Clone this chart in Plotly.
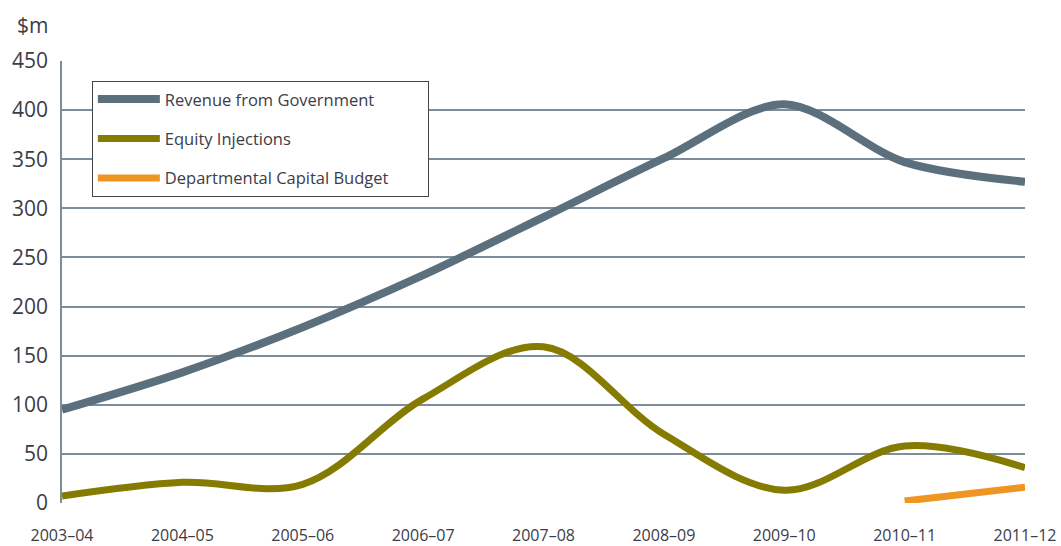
import plotly.graph_objects as go

years = ["2003–04", "2004–05", "2005–06", "2006–07", "2007–08",
         "2008–09", "2009–10", "2010–11", "2011–12"]
revenue = [95, 133, 179, 232, 291, 351, 406, 347, 327]
equity = [7, 21, 19, 106, 159, 70, 13, 58, 36]
dcb_years = ["2010–11", "2011–12"]
dcb = [2, 16]
y_ticks = [0, 50, 100, 150, 200, 250, 300, 350, 400, 450]

idx = {y: i for i, y in enumerate(years)}
xr = list(range(len(years)))
xd = [idx[y] for y in dcb_years]

FONT = "Open Sans"
TXT = "#3c3c48"
GRID = "#7d8e9a"
PAD = "\u00a0" * 8

fig = go.Figure()
fig.add_trace(go.Scatter(x=xr, y=revenue, mode="lines", name="Revenue from Government",
                         line=dict(color="#5b6f7d", width=8, shape="spline", smoothing=0.9),
                         legendgroup="a"))
fig.add_trace(go.Scatter(x=xr, y=equity, mode="lines", name="Equity Injections",
                         line=dict(color="#847b00", width=7, shape="spline", smoothing=1),
                         legendgroup="b"))
fig.add_trace(go.Scatter(x=xd, y=dcb, mode="lines", name="Departmental Capital Budget" + PAD,
                         line=dict(color="#ef9622", width=7),
                         legendgroup="c"))

fig.update_layout(
    width=1061, height=546,
    margin=dict(l=62, r=36, t=61, b=43, autoexpand=False),
    paper_bgcolor="white", plot_bgcolor="white",
    font=dict(family=FONT, color=TXT),
    showlegend=True,
    legend=dict(x=0.031, y=0.955, xanchor="left", yanchor="top",
                bgcolor="white", bordercolor="#444444", borderwidth=1,
                font=dict(size=16.5, family=FONT, color=TXT),
                tracegroupgap=15, itemwidth=62, traceorder="grouped"),
    xaxis=dict(range=[0, 8], tickvals=xr, ticktext=years, showgrid=False,
               zeroline=False, showline=False, ticks="", automargin=False,
               tickfont=dict(size=16, family=FONT, color=TXT), ticklabelstandoff=21),
    yaxis=dict(range=[0, 450], tickvals=y_ticks, showgrid=True, gridcolor=GRID,
               gridwidth=1.5, zeroline=False, showline=True, linecolor=GRID, linewidth=1.5,
               ticks="", automargin=False,
               tickfont=dict(size=21, family=FONT, color=TXT), ticklabelstandoff=8),
    annotations=[dict(text="$m", x=-0.049, y=1.045, xref="paper", yref="paper",
                      xanchor="left", yanchor="bottom", showarrow=False,
                      font=dict(size=21, family=FONT, color=TXT))],
)

fig.write_html("out.html")
